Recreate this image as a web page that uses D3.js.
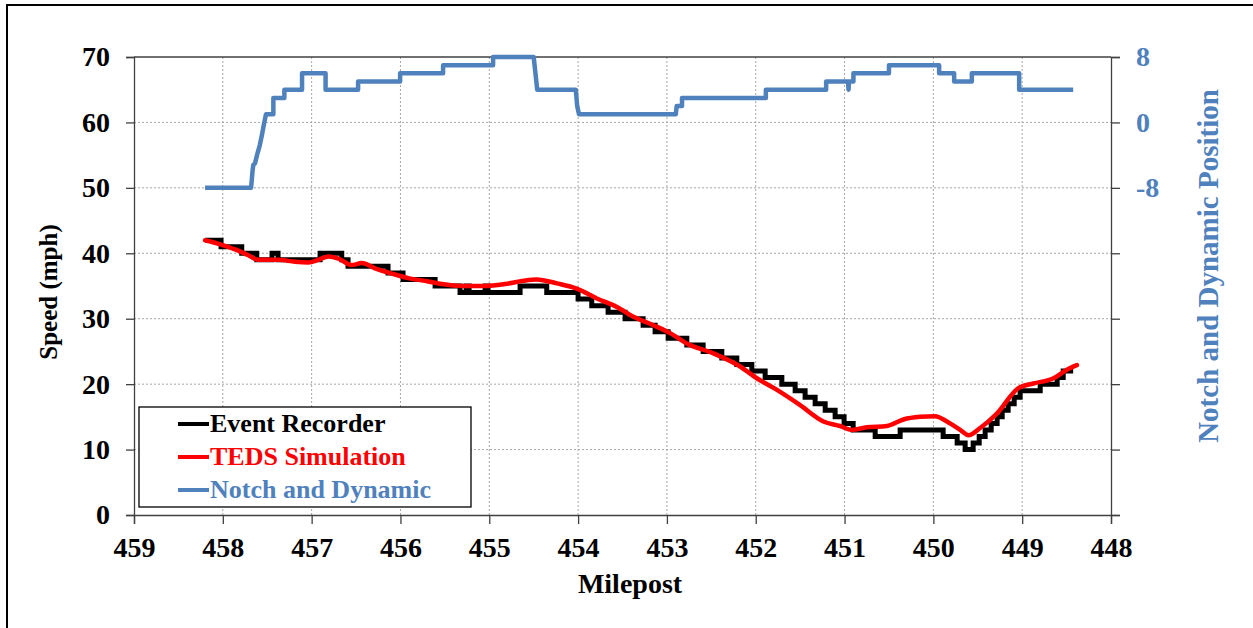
<!DOCTYPE html>
<html>
<head>
<meta charset="utf-8">
<script src="https://cdn.jsdelivr.net/npm/d3@7"></script>
<style>
  html, body { margin: 0; padding: 0; background: #fff; }
  svg { display: block; }
  text { font-family: "Liberation Serif", "Times New Roman", serif; font-weight: bold; }
</style>
</head>
<body>
<svg id="chart" width="1253" height="628"></svg>
<script>
// ---- Data ----
// Event Recorder speed (mph): step values starting at each milepost
const eventMile = [458.200, 458.020, 457.787, 457.618, 457.446, 457.378, 456.905, 456.661, 456.590, 456.140,
  455.971, 455.610, 455.329, 455.261, 455.227, 455.047, 455.014, 454.653, 454.353, 454.000,
  453.846, 453.662, 453.471, 453.268, 453.133, 452.986, 452.776, 452.592, 452.382, 452.213,
  452.044, 451.894, 451.706, 451.556, 451.444, 451.331, 451.218, 451.106, 451.005, 450.903,
  450.655, 450.374, 449.890, 449.732, 449.642, 449.552, 449.484, 449.417, 449.349, 449.282,
  449.225, 449.158, 449.090, 449.023, 448.797, 448.606, 448.538, 448.426];
const eventSpeed = [42, 41, 40, 39, 40, 39, 40, 39, 38, 37,
  36, 35, 34, 35, 34, 35, 34, 35, 34, 33,
  32, 31, 30, 29, 28, 27, 26, 25, 24, 23,
  22, 21, 20, 19, 18, 17, 16, 15, 14, 13,
  12, 13, 12, 11, 10, 11, 12, 13, 14, 15,
  16, 17, 18, 19, 20, 21, 22, 22];

// TEDS Simulation speed (mph)
const tedsMile = [458.200, 458.012, 457.825, 457.713, 457.600, 457.375, 457.187, 457.037, 456.925, 456.812,
  456.699, 456.548, 456.436, 456.286, 456.098, 455.911, 455.686, 455.535, 455.310, 455.047,
  454.822, 454.616, 454.465, 454.240, 454.015, 453.789, 453.564, 453.377, 453.152, 452.964,
  452.776, 452.476, 452.176, 451.988, 451.770, 451.500, 451.238, 451.050, 450.918, 450.749,
  450.524, 450.337, 450.149, 449.980, 449.848, 449.698, 449.605, 449.473, 449.285, 449.042,
  448.873, 448.647, 448.497, 448.384];
const tedsSpeed = [42.0, 41.3, 40.4, 39.7, 39.0, 39.0, 38.7, 38.6, 39.0, 39.5,
  39.2, 38.2, 38.5, 37.7, 36.9, 36.2, 35.7, 35.3, 35.0, 35.0,
  35.3, 35.8, 36.0, 35.4, 34.6, 33.1, 31.8, 30.3, 29.0, 27.8,
  26.2, 24.7, 22.7, 20.9, 19.2, 16.8, 14.3, 13.6, 13.0, 13.4,
  13.6, 14.6, 15.0, 15.1, 14.3, 13.0, 12.2, 13.3, 15.5, 19.4,
  20.1, 20.9, 22.2, 22.9];

// Notch and Dynamic position (right axis)
const notchMile = [458.200, 457.682, 457.666, 457.657, 457.637, 457.615, 457.584, 457.559, 457.533, 457.514,
  457.431, 457.431, 457.307, 457.307, 457.108, 457.108, 456.843, 456.843, 456.477, 456.477,
  456.004, 456.004, 455.520, 455.520, 454.957, 454.957, 454.500, 454.480, 454.460, 454.026,
  454.010, 453.990, 452.900, 452.890, 452.830, 452.830, 451.886, 451.886, 451.207, 451.207,
  450.960, 450.955, 450.950, 450.900, 450.900, 450.500, 450.500, 449.935, 449.935, 449.766,
  449.766, 449.567, 449.567, 449.034, 449.034, 448.426];
const notchValue = [-8, -8, -6, -5.2, -5, -4, -2.8, -1.5, 0, 1,
  1, 3, 3, 4, 4, 6, 6, 4, 4, 5,
  5, 6, 6, 7, 7, 8, 8, 6, 4, 4,
  2, 1, 1, 2, 2, 3, 3, 4, 4, 5,
  5, 4, 5, 5, 6, 6, 7, 7, 6, 6,
  5, 5, 6, 6, 4, 4];

const xTicks = [459, 458, 457, 456, 455, 454, 453, 452, 451, 450, 449, 448];
const yTicks = [0, 10, 20, 30, 40, 50, 60, 70];
const y2Ticks = [-48, -40, -32, -24, -16, -8, 0, 8];
const y2Labeled = [-8, 0, 8];
const seriesNames = ["Event Recorder", "TEDS Simulation", "Notch and Dynamic"];
const seriesColors = ["#000000", "#FF0000", "#4F81BD"];

// ---- Layout ----
const svg = d3.select("#chart");
const L = 134, R = 1111, T = 57, B = 515;
const x = d3.scaleLinear().domain([459, 448]).range([L, R]);
const y = d3.scaleLinear().domain([0, 70]).range([B, T]);
const y2 = d3.scaleLinear().domain([-48, 8]).range([B, T]);
const blue = seriesColors[2];

svg.append("rect").attr("width", 1253).attr("height", 628).attr("fill", "#fff");
// outer frame (left and top edges visible)
svg.append("path").attr("d", "M7,628 L7,5 L1253,5").attr("fill", "none")
  .attr("stroke", "#000").attr("stroke-width", 2);

// grid
const grid = svg.append("g");
grid.selectAll(".hg").data(yTicks.filter(d => d > 0 && d < 70)).join("line")
  .attr("x1", L).attr("x2", R).attr("y1", d => y(d)).attr("y2", d => y(d))
  .attr("stroke", "#a6a6a6").attr("stroke-width", 1).attr("stroke-dasharray", "2,2");
grid.selectAll(".vg").data(xTicks.filter(d => d < 459 && d > 448)).join("line")
  .attr("y1", T).attr("y2", B).attr("x1", d => x(d)).attr("x2", d => x(d))
  .attr("stroke", "#a6a6a6").attr("stroke-width", 1).attr("stroke-dasharray", "2,2");
// top border
svg.append("line").attr("x1", L).attr("x2", R).attr("y1", T).attr("y2", T)
  .attr("stroke", "#404040").attr("stroke-width", 1.3);

// axes
const axFont = 28;
const gx = svg.append("g").attr("transform", `translate(0,${B})`)
  .call(d3.axisBottom(x).tickValues(xTicks).tickFormat(d => String(d)).tickSize(9).tickPadding(13));
const gy = svg.append("g").attr("transform", `translate(${L},0)`)
  .call(d3.axisLeft(y).tickValues(yTicks).tickFormat(d => String(d)).tickSize(8).tickPadding(16));
const gy2 = svg.append("g").attr("transform", `translate(${R},0)`)
  .call(d3.axisRight(y2).tickValues(y2Ticks).tickSize(9).tickPadding(16)
    .tickFormat(d => y2Labeled.includes(d) ? String(d) : ""));
[gx, gy, gy2].forEach(g => {
  g.select(".domain").attr("stroke", "#404040").attr("stroke-width", 1.3);
  g.selectAll(".tick line").attr("stroke", "#404040").attr("stroke-width", 1.3);
  g.selectAll(".tick text").attr("font-size", axFont).attr("font-family", "Liberation Serif, serif")
    .attr("font-weight", "bold").attr("fill", "#000");
});
gy2.selectAll(".tick text").attr("fill", blue);
gx.selectAll(".tick text").attr("dy", "0.7em");

// axis titles
svg.append("text").attr("x", 630).attr("y", 593).attr("text-anchor", "middle")
  .attr("font-size", 28).attr("fill", "#000").text("Milepost");
svg.append("text").attr("transform", "translate(57,292) rotate(-90)").attr("text-anchor", "middle")
  .attr("font-size", 25).attr("fill", "#000").text("Speed (mph)");
svg.append("text").attr("transform", "translate(1218,266) rotate(-90)").attr("text-anchor", "middle")
  .attr("font-size", 29).attr("fill", blue).text("Notch and Dynamic Position");

// series
const eventData = eventMile.map((m, i) => [m, eventSpeed[i]]);
const tedsData = tedsMile.map((m, i) => [m, tedsSpeed[i]]);
const notchData = notchMile.map((m, i) => [m, notchValue[i]]);

svg.append("path").datum(eventData)
  .attr("d", d3.line().x(d => x(d[0])).y(d => y(d[1])).curve(d3.curveStepAfter))
  .attr("fill", "none").attr("stroke", seriesColors[0]).attr("stroke-width", 5)
  .attr("stroke-linejoin", "miter");
svg.append("path").datum(tedsData)
  .attr("d", d3.line().x(d => x(d[0])).y(d => y(d[1])).curve(d3.curveMonotoneX))
  .attr("fill", "none").attr("stroke", seriesColors[1]).attr("stroke-width", 4.5)
  .attr("stroke-linejoin", "round").attr("stroke-linecap", "round");
svg.append("path").datum(notchData)
  .attr("d", d3.line().x(d => x(d[0])).y(d => y2(d[1])))
  .attr("fill", "none").attr("stroke", seriesColors[2]).attr("stroke-width", 4.5)
  .attr("stroke-linejoin", "round");

// legend
const lg = svg.append("g");
lg.append("rect").attr("x", 139).attr("y", 407).attr("width", 332).attr("height", 100)
  .attr("fill", "#fff").attr("stroke", "#000").attr("stroke-width", 1.3);
seriesNames.forEach((name, i) => {
  const cy = 424 + i * 33;
  lg.append("line").attr("x1", 178).attr("x2", 209).attr("y1", cy).attr("y2", cy)
    .attr("stroke", seriesColors[i]).attr("stroke-width", 4);
  lg.append("text").attr("x", 210).attr("y", cy + 8).attr("font-size", 26)
    .attr("fill", i === 0 ? "#000" : seriesColors[i]).text(name);
});
</script>
</body>
</html>
